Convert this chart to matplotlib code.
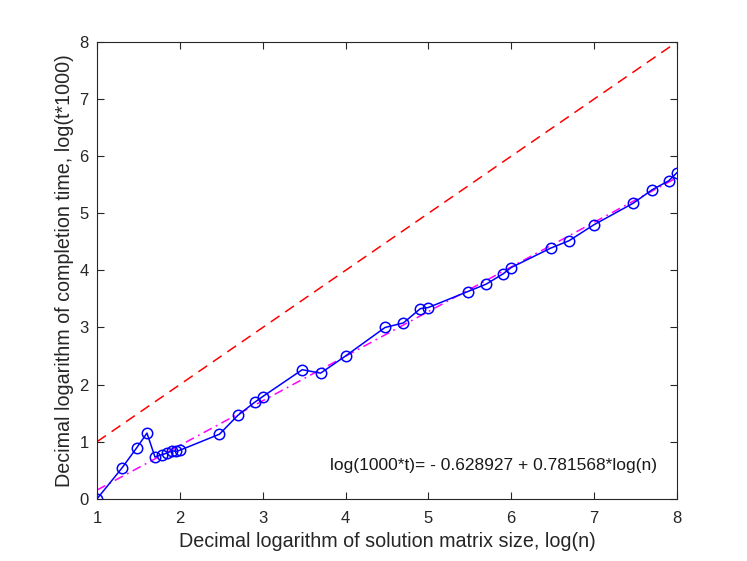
import numpy as np
import matplotlib
matplotlib.use("Agg")
import matplotlib.pyplot as plt

plt.rcParams['font.family'] = ['Liberation Sans', 'DejaVu Sans']

log_n = [1.0, 1.301, 1.477, 1.602, 1.699, 1.778, 1.845, 1.903, 1.954, 2.0,
         2.477, 2.699, 2.903, 3.0, 3.477, 3.699, 4.0, 4.477, 4.699, 4.903, 5.0,
         5.477, 5.699, 5.903, 6.0, 6.477, 6.699, 7.0, 7.477, 7.699, 7.903, 8.0]
log_t = [0.0, 0.54, 0.89, 1.15, 0.73, 0.77, 0.80, 0.84, 0.83, 0.85,
         1.13, 1.46, 1.69, 1.79, 2.26, 2.20, 2.50, 3.00, 3.08, 3.33, 3.35,
         3.63, 3.76, 3.94, 4.05, 4.39, 4.52, 4.80, 5.18, 5.41, 5.57, 5.71]
fit_a = -0.628927
fit_b = 0.781568
ref_x = [1, 8]
ref_y = [1, 8]

fig = plt.figure(figsize=(7.47, 5.61), dpi=100)
ax = fig.add_axes([0.13, 0.111, 0.776, 0.814])

ax.plot(ref_x, ref_y, '--', color=(1, 0, 0), lw=1.1, dashes=(7, 4.5))
xf = np.array([log_n[0], log_n[-1]])
ax.plot(xf, fit_a + fit_b * xf, '-.', color=(1, 0, 1), lw=1.1, dashes=(6, 3, 1.2, 3))
ax.plot(log_n, log_t, '-o', color=(0, 0, 1), lw=1.1, markersize=7.5,
        markerfacecolor='none', markeredgewidth=1.1)

ax.text(3.81, 0.58, 'log(1000*t)= - 0.628927 + 0.781568*log(n)', fontsize=12.5,
        va='center', ha='left', color=(0.1, 0.1, 0.1))

ax.set_xlim(1, 8)
ax.set_ylim(0, 8)
ax.set_xticks(range(1, 9))
ax.set_yticks(range(0, 9))
ax.tick_params(direction='in', length=5, width=0.8, top=True, right=True,
               labelsize=12, colors=(0.15, 0.15, 0.15))
ax.tick_params(axis='x', pad=9)
ax.tick_params(axis='y', pad=6)
for s in ax.spines.values():
    s.set_color((0.15, 0.15, 0.15))
    s.set_linewidth(0.8)
ax.set_xlabel('Decimal logarithm of solution matrix size, log(n)', fontsize=14.2,
              color=(0.15, 0.15, 0.15), labelpad=4)
ax.set_ylabel('Decimal logarithm of completion time, log(t*1000)', fontsize=14.2,
              color=(0.15, 0.15, 0.15), labelpad=4)

fig.savefig('out.png', dpi=100)
